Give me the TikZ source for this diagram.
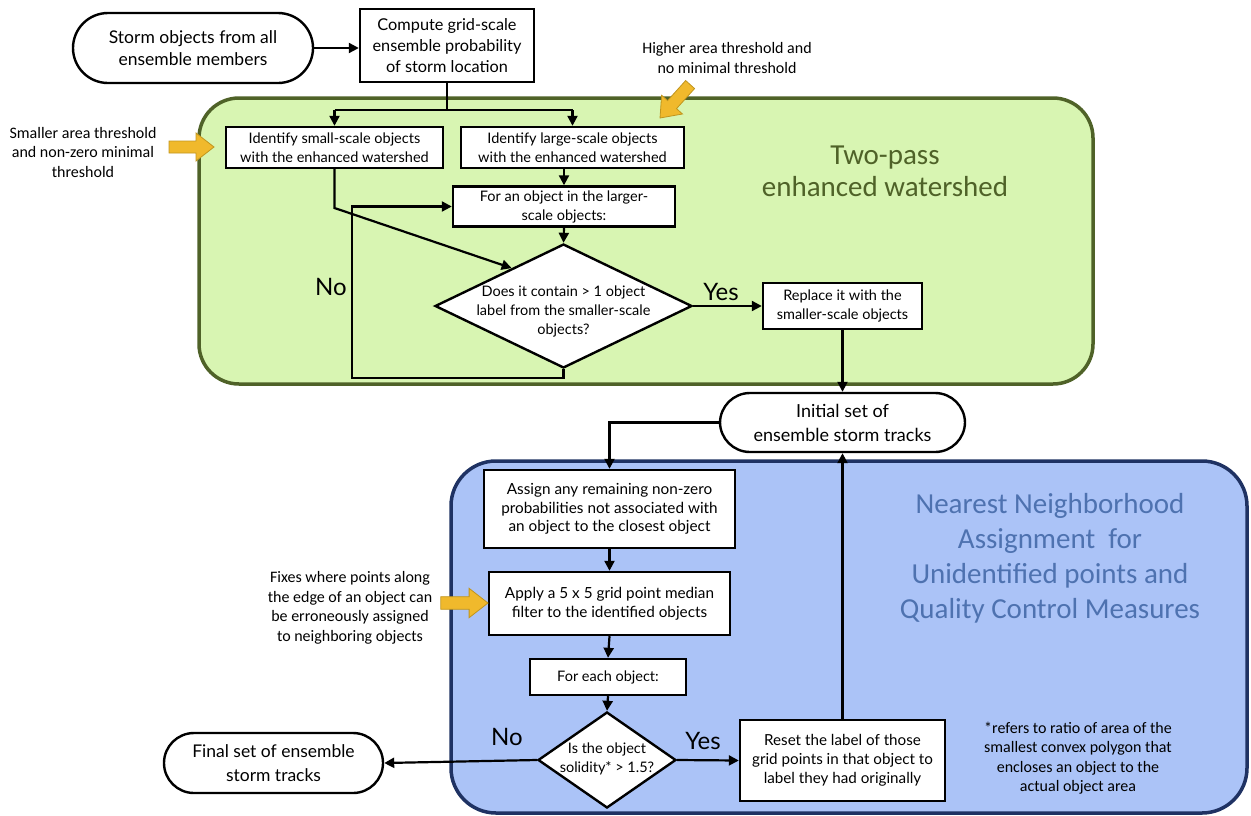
\documentclass[tikz,border=0pt]{standalone}
\usepackage{fontspec}
\setmainfont{Lato}
\newfontfamily\calfont{Carlito}
\usetikzlibrary{arrows.meta,shapes.geometric,calc}
\definecolor{gfill}{HTML}{D8F5B2}
\definecolor{gline}{HTML}{4F6228}
\definecolor{bfill}{HTML}{ABC3F7}
\definecolor{bline}{HTML}{1F3263}
\definecolor{btext}{HTML}{4E72B0}
\definecolor{yfill}{HTML}{F0B92C}
\definecolor{yline}{HTML}{C0951E}
\begin{document}
\begin{tikzpicture}[x=1pt,y=-1pt,
  box/.style={draw, line width=2.4pt, fill=white, inner sep=0pt, align=center, font=\fontsize{14.5}{19}\selectfont},
  term/.style={box, rounded corners=30pt},
  dia/.style={diamond, draw, line width=2.4pt, fill=white, inner sep=0pt},
  dtext/.style={align=center, inner sep=0pt, font=\fontsize{14.5}{19}\selectfont},
  conn/.style={line width=2.2pt, -{Triangle[length=10pt,width=10pt]}},
  plain/.style={line width=2.2pt},
  ann/.style={align=center, inner sep=0pt, font=\calfont\fontsize{16}{19.5}\selectfont},
  yn/.style={inner sep=0pt, font=\fontsize{24}{24}\selectfont},
  blockarrow/.pic={\filldraw[fill=yfill, draw=yline, line width=0.8pt]
     (-45,-6) -- (-18,-6) -- (-18,-14) -- (0,0) -- (-18,14) -- (-18,6) -- (-45,6) -- cycle;}
]
\useasboundingbox (0,0) rectangle (1251,815);
% panels
\draw[fill=gfill, draw=gline, line width=3.5pt, rounded corners=40pt] (199,98) rectangle (1093,384);
\draw[fill=bfill, draw=bline, line width=3.5pt, rounded corners=45pt] (451,461) rectangle (1247,813);
\node[align=center, inner sep=0pt, text=gline, font=\calfont\fontsize{29}{32}\selectfont] (gt) at (885,171) {Two-pass\\enhanced watershed};
\node[align=center, inner sep=0pt, text=btext, font=\calfont\fontsize{29}{35}\selectfont] (bt) at (1050,558) {Nearest Neighborhood\\Assignment\ \ for\\Unidentified points and\\Quality Control Measures};
% nodes
\node[term, rounded corners=35pt, minimum width=240, minimum height=70, font=\fontsize{17.5}{22}\selectfont] (s1) at (193,48) {Storm objects from all\\ensemble members};
\node[box, minimum width=174, minimum height=73, font=\fontsize{16.3}{21}\selectfont] (b2) at (447,45.5) {Compute grid-scale\\ensemble probability\\of storm location};
\node[box, minimum width=217, minimum height=41] (b3) at (334.5,147.5) {Identify small-scale objects\\with the enhanced watershed};
\node[box, minimum width=223, minimum height=41] (b4) at (572.5,147.5) {Identify large-scale objects\\with the enhanced watershed};
\node[box, minimum width=222, minimum height=40] (b5) at (564,206.5) {For an object in the larger-\\scale objects:};
\node[dia, minimum width=257, minimum height=124] (d1) at (563.5,306) {};
\node[dtext] (d1t) at (563.5,311) {Does it contain > 1 object\\label from the smaller-scale\\objects?};
\node[box, minimum width=159, minimum height=46] (r1) at (842.5,306) {Replace it with the\\smaller-scale objects};
\node[term, minimum width=245, minimum height=59, font=\fontsize{18}{24}\selectfont] (s2) at (842.5,422.5) {Initial set of\\ensemble storm tracks};
\node[box, minimum width=251, minimum height=78, font=\fontsize{15.3}{18.5}\selectfont] (b6) at (609.5,509) {Assign any remaining non-zero\\probabilities not associated with\\an object to the closest object};
\node[box, minimum width=241, minimum height=63, font=\fontsize{15.3}{19}\selectfont] (b7) at (609.5,603.5) {Apply a 5 x 5 grid point median\\filter to the identified objects};
\node[box, minimum width=156, minimum height=36] (b8) at (608,677) {For each object:};
\node[dia, minimum width=138, minimum height=96] (d2) at (607,760) {};
\node[dtext] (d2t) at (607,758.5) {Is the object\\solidity* > 1.5?};
\node[term, minimum width=219, minimum height=60, font=\fontsize{17.5}{24}\selectfont] (s3) at (273.5,763) {Final set of ensemble\\storm tracks};
\node[box, minimum width=205, minimum height=81, font=\fontsize{15.2}{19}\selectfont] (r2) at (842.5,760.5) {Reset the label of those\\grid points in that object to\\label they had originally};
% annotations
\node[ann] (a1) at (83,152) {Smaller area threshold\\and non-zero minimal\\threshold};
\node[ann] (a2) at (727,58) {Higher area threshold and\\no minimal threshold};
\node[ann] (a3) at (350,608) {Fixes where points along\\the edge of an object can\\be erroneously assigned\\to neighboring objects};
\node[ann] (a4) at (1078,758) {*refers to ratio of area of the\\smallest convex polygon that\\encloses an object to the\\actual object area};
\pic at (214,147) {blockarrow};
\pic[scale=1.05] at (488,603) {blockarrow};
\pic[rotate=228] at (660,118) {blockarrow};
% connectors
\coordinate (j1) at (b2.south |- 0,110);
\draw[plain] (b2.south) -- (j1);
\draw[plain] (b3.north |- j1) -- (b4.north |- j1);
\draw[conn] (b3.north |- j1) -- (b3.north);
\draw[conn] (b4.north |- j1) -- (b4.north);
\draw[conn] (s1.east) -- (s1.east -| b2.west);
\draw[conn] (b5.north |- b4.south) -- (b5.north);
\draw[conn] (b5.south) -- (d1.north);
\coordinate (k1) at (b3.south |- 0,208);
\draw[conn] (b3.south) -- (k1) -- ($(d1.west)!0.6!(d1.north)$);
\coordinate (lp) at (352,378);
\draw[conn] (d1.south) |- (lp) |- (b5.west);
\draw[conn] (d1.east) -- (r1.west);
\draw[conn] (r1.south) -- (s2.north);
\draw[conn] (s2.west) -| (b6.north);
\draw[conn] (b6.south) -- (b7.north);
\draw[conn] (b7.south) -- (b8.north);
\draw[conn] (b8.south) -- (d2.north);
\draw[conn] (d2.west) -- (s3.east);
\draw[conn] (d2.east) -- (r2.west);
\draw[conn] (r2.north) -- (s2.south);
\node[yn] (no1) at (331,287) {No};
\node[yn] (yes1) at (721,292) {Yes};
\node[yn] (no2) at (507,737) {No};
\node[yn] (yes2) at (703,741) {Yes};
\end{tikzpicture}
\end{document}
